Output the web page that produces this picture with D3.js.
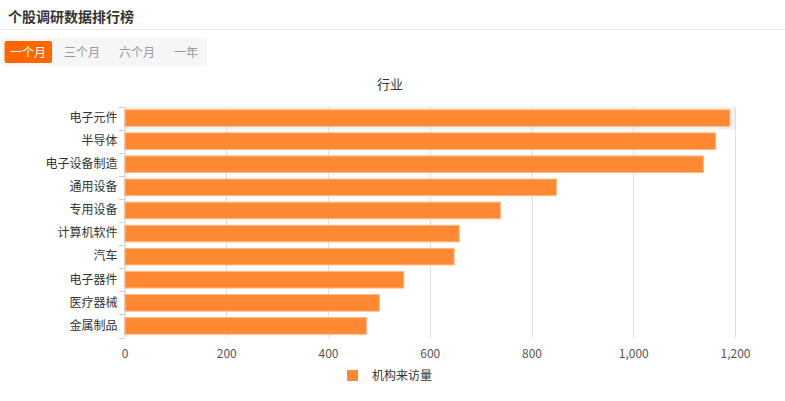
<!DOCTYPE html>
<html><head><meta charset="utf-8">
<script src="https://cdn.jsdelivr.net/npm/d3@7"></script>
<style>
body{margin:0;background:#fff;font-family:"Noto Sans CJK SC","Noto Sans",sans-serif;}
svg{display:block;}
</style></head><body>
<svg id="c" width="785" height="401"></svg>
<script>
const categories = ["电子元件","半导体","电子设备制造","通用设备","专用设备","计算机软件","汽车","电子器件","医疗器械","金属制品"];
const values = [1190, 1162, 1138, 849, 739, 658, 648, 549, 501, 476];
const xTicks = [0, 200, 400, 600, 800, 1000, 1200];
const tabs = ["一个月","三个月","六个月","一年"];
const seriesName = "机构来访量";
const chartTitle = "行业";
const pageTitle = "个股调研数据排行榜";

const svg = d3.select("#c");
const font = '"Noto Sans CJK SC","Noto Sans",sans-serif';

// header
svg.append("text").attr("x", 8).attr("y", 22).text(pageTitle)
  .attr("font-size", 14).attr("font-weight", "bold").attr("fill", "#333").attr("font-family", font);
svg.append("line").attr("x1", 0).attr("x2", 785).attr("y1", 29.5).attr("y2", 29.5).attr("stroke", "#e5e5e5");

// tabs
svg.append("rect").attr("x", 2).attr("y", 38).attr("width", 205).attr("height", 28).attr("rx", 3).attr("fill", "#f6f6f6");
svg.append("rect").attr("x", 4.5).attr("y", 41).attr("width", 47.5).attr("height", 22).attr("rx", 2).attr("fill", "#ff6600");
const tabX = [28, 82, 137, 186];
tabs.forEach((t, i) => {
  svg.append("text").attr("x", tabX[i]).attr("y", 57).attr("text-anchor", "middle")
    .attr("font-size", 12).attr("fill", i === 0 ? "#fff" : "#999").attr("font-family", font).text(t);
});

// chart title
svg.append("text").attr("x", 390).attr("y", 89).attr("text-anchor", "middle")
  .attr("font-size", 13).attr("fill", "#333").attr("font-family", font).text(chartTitle);

const x = d3.scaleLinear().domain([0, 1200]).range([124.5, 735]);
const y = d3.scaleBand().domain(categories).range([106.5, 337.5]).paddingInner(0.28).paddingOuter(0.14);
const yb = d3.scaleBand().domain(categories).range([106.5, 337.5]);

// hover shadow
svg.append("rect").attr("x", x(0)).attr("y", yb(categories[0])).attr("width", x(1200) - x(0))
  .attr("height", yb.bandwidth()).attr("fill", "#f2f2f2");

// grid
svg.append("g").selectAll("line").data(xTicks.slice(1)).join("line")
  .attr("x1", d => Math.round(x(d)) + 0.5).attr("x2", d => Math.round(x(d)) + 0.5)
  .attr("y1", 106.5).attr("y2", 337.5).attr("stroke", "#e0e0e0");

// bars
svg.append("g").selectAll("rect").data(values).join("rect")
  .attr("x", x(0)).attr("y", (d, i) => y(categories[i]))
  .attr("width", d => x(d) - x(0)).attr("height", y.bandwidth())
  .attr("fill", "#ff8833").attr("stroke", "#ffbb88").attr("stroke-width", 1);

// x axis
const xa = svg.append("g").attr("transform", "translate(0,337.5)")
  .call(d3.axisBottom(x).tickValues(xTicks).tickFormat(d3.format(",")).tickSize(0).tickPadding(12));
xa.select(".domain").remove();
xa.selectAll("text").attr("font-size", 12).attr("fill", "#555").attr("font-family", font);

// y axis
const ya = svg.append("g").attr("transform", "translate(124.5,0)")
  .call(d3.axisLeft(y).tickSize(0).tickPadding(7));
ya.select(".domain").attr("stroke", "#ccc");
ya.selectAll("text").attr("font-size", 12).attr("fill", "#333").attr("font-family", font);
// boundary ticks
const bounds = categories.map(c => yb(c)).concat([337.5]);
svg.append("g").selectAll("line").data(bounds).join("line")
  .attr("x1", 119).attr("x2", 124.5).attr("y1", d => Math.round(d) + 0.5).attr("y2", d => Math.round(d) + 0.5)
  .attr("stroke", "#ccc");

// legend
svg.append("rect").attr("x", 347).attr("y", 370).attr("width", 11).attr("height", 11).attr("fill", "#ff8833");
svg.append("text").attr("x", 372).attr("y", 380).attr("font-size", 12).attr("fill", "#333")
  .attr("font-family", font).text(seriesName);
</script>
</body></html>
